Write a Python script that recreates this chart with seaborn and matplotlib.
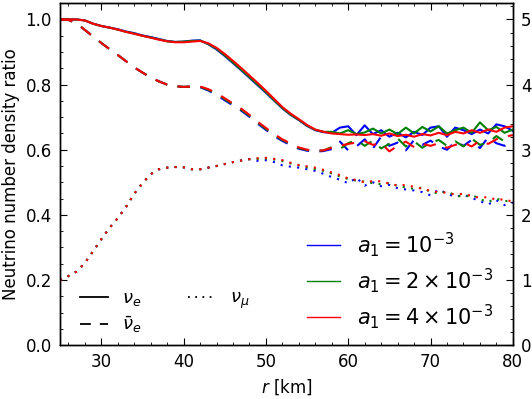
import matplotlib
matplotlib.use("Agg")
import matplotlib.pyplot as plt
from matplotlib.lines import Line2D
from matplotlib.ticker import MultipleLocator
import pandas as pd
import seaborn as sns

# radius grid [km]
r_km = list(range(25, 81))

# nu_e (solid)
nue_b = [1.000, 1.000, 1.000, 0.997, 0.987, 0.980, 0.975, 0.970, 0.963, 0.958, 0.951, 0.946, 0.940,
         0.934, 0.931, 0.932, 0.935, 0.936, 0.924, 0.908, 0.888, 0.866, 0.844, 0.821, 0.798, 0.775,
         0.751, 0.727, 0.707, 0.691, 0.673, 0.660, 0.654,
         0.652, 0.668, 0.672, 0.645, 0.675, 0.648, 0.660, 0.640, 0.652, 0.638, 0.655, 0.645, 0.668,
         0.672, 0.640, 0.668, 0.660, 0.648, 0.662, 0.650, 0.678, 0.672, 0.658]
nue_g = [1.000, 1.000, 1.000, 0.997, 0.987, 0.980, 0.975, 0.969, 0.962, 0.957, 0.950, 0.945, 0.939,
         0.933, 0.931, 0.932, 0.934, 0.935, 0.925, 0.910, 0.890, 0.868, 0.846, 0.823, 0.800, 0.777,
         0.752, 0.728, 0.708, 0.692, 0.674, 0.661, 0.655,
         0.655, 0.650, 0.660, 0.648, 0.653, 0.665, 0.650, 0.662, 0.648, 0.668, 0.650, 0.670, 0.656,
         0.672, 0.650, 0.660, 0.668, 0.652, 0.684, 0.660, 0.670, 0.652, 0.662]
nue_r = [1.000, 1.000, 1.000, 0.997, 0.987, 0.980, 0.975, 0.969, 0.962, 0.956, 0.950, 0.944, 0.938,
         0.933, 0.930, 0.930, 0.932, 0.934, 0.927, 0.913, 0.894, 0.873, 0.851, 0.828, 0.805, 0.781,
         0.756, 0.731, 0.711, 0.694, 0.676, 0.662, 0.655,
         0.650, 0.648, 0.646, 0.647, 0.645, 0.648, 0.643, 0.650, 0.642, 0.646, 0.640, 0.648, 0.644,
         0.652, 0.645, 0.655, 0.650, 0.660, 0.652, 0.662, 0.655, 0.668, 0.672]

# anti nu_e (dashed)
nuebar_b = [1.000, 0.999, 0.988, 0.968, 0.948, 0.928, 0.909, 0.891, 0.872, 0.853, 0.837, 0.822, 0.810,
            0.800, 0.795, 0.793, 0.794, 0.792, 0.782, 0.768, 0.752, 0.736, 0.720, 0.701, 0.680, 0.661,
            0.642, 0.627, 0.614, 0.603, 0.597, 0.594,
            0.596, 0.602, 0.625, 0.598, 0.610, 0.632, 0.604, 0.640, 0.612, 0.622, 0.598, 0.630, 0.615,
            0.628, 0.610, 0.600, 0.625, 0.612, 0.630, 0.605, 0.638, 0.620, 0.612, 0.630]
nuebar_g = [1.000, 0.999, 0.988, 0.968, 0.948, 0.928, 0.909, 0.891, 0.872, 0.853, 0.837, 0.822, 0.810,
            0.800, 0.795, 0.793, 0.794, 0.793, 0.784, 0.771, 0.755, 0.739, 0.723, 0.704, 0.683, 0.664,
            0.645, 0.630, 0.617, 0.605, 0.599, 0.596,
            0.598, 0.608, 0.602, 0.620, 0.630, 0.612, 0.628, 0.604, 0.618, 0.635, 0.610, 0.626, 0.606,
            0.622, 0.630, 0.612, 0.626, 0.610, 0.634, 0.615, 0.622, 0.642, 0.625, 0.628]
nuebar_r = [1.000, 0.999, 0.988, 0.968, 0.948, 0.928, 0.909, 0.891, 0.872, 0.853, 0.837, 0.822, 0.810,
            0.800, 0.795, 0.793, 0.794, 0.794, 0.786, 0.774, 0.758, 0.742, 0.726, 0.707, 0.686, 0.667,
            0.648, 0.632, 0.619, 0.607, 0.600, 0.597,
            0.598, 0.606, 0.612, 0.618, 0.622, 0.626, 0.615, 0.620, 0.595, 0.612, 0.625, 0.608, 0.618,
            0.612, 0.620, 0.606, 0.615, 0.622, 0.610, 0.628, 0.618, 0.632, 0.640, 0.645]

# nu_mu (dotted): common part up to 48 km, then one tail per run
numu_head = [0.199, 0.212, 0.226, 0.252, 0.288, 0.325, 0.360, 0.390, 0.424, 0.465, 0.497, 0.525,
             0.540, 0.545, 0.547, 0.546, 0.540, 0.540, 0.545, 0.550, 0.556, 0.562, 0.567, 0.571]
numu_b = numu_head + [0.566, 0.568, 0.562, 0.552, 0.548, 0.545, 0.540, 0.535, 0.526, 0.516,
                      0.508, 0.497, 0.514, 0.490, 0.500, 0.488, 0.492, 0.482, 0.478, 0.475,
                      0.470, 0.460, 0.478, 0.465, 0.455, 0.462, 0.452, 0.442, 0.432, 0.445,
                      0.430, 0.438]
numu_g = numu_head + [0.572, 0.573, 0.570, 0.565, 0.558, 0.552, 0.546, 0.541, 0.535, 0.527,
                      0.518, 0.510, 0.505, 0.502, 0.497, 0.494, 0.498, 0.489, 0.484, 0.480,
                      0.484, 0.470, 0.466, 0.472, 0.460, 0.455, 0.462, 0.448, 0.440, 0.450,
                      0.442, 0.445]
numu_r = numu_head + [0.574, 0.575, 0.572, 0.568, 0.560, 0.553, 0.549, 0.545, 0.538, 0.530,
                      0.522, 0.512, 0.507, 0.500, 0.504, 0.503, 0.496, 0.490, 0.492, 0.486,
                      0.480, 0.474, 0.470, 0.468, 0.462, 0.465, 0.458, 0.452, 0.455, 0.446,
                      0.448, 0.440]

a1_labels = [r'$a_1 = 10^{-3}$', r'$a_1 = 2\times10^{-3}$', r'$a_1 = 4\times10^{-3}$']
species_labels = [r'$\nu_e$', r'$\bar{\nu}_e$', r'$\nu_\mu$']

series = {
    (a1_labels[0], species_labels[0]): nue_b,
    (a1_labels[1], species_labels[0]): nue_g,
    (a1_labels[2], species_labels[0]): nue_r,
    (a1_labels[0], species_labels[1]): nuebar_b,
    (a1_labels[1], species_labels[1]): nuebar_g,
    (a1_labels[2], species_labels[1]): nuebar_r,
    (a1_labels[0], species_labels[2]): numu_b,
    (a1_labels[1], species_labels[2]): numu_g,
    (a1_labels[2], species_labels[2]): numu_r,
}

frames = []
for (a1, sp), vals in series.items():
    frames.append(pd.DataFrame({'r': r_km, 'ratio': vals, 'a1': a1, 'species': sp}))
df = pd.concat(frames, ignore_index=True)

colors = {a1_labels[0]: (0, 0, 1), a1_labels[1]: (0, 0.5, 0), a1_labels[2]: (1, 0, 0)}
dash_map = {species_labels[0]: '', species_labels[1]: (6, 5), species_labels[2]: (1, 3)}

plt.rcParams.update({
    'font.family': ['DejaVu Sans'],
    'font.size': 12,
    'mathtext.fontset': 'dejavusans',
    'axes.linewidth': 1.0,
    'xtick.direction': 'in',
    'ytick.direction': 'in',
    'xtick.major.size': 5,
    'ytick.major.size': 5,
    'xtick.minor.size': 2.5,
    'ytick.minor.size': 2.5,
    'xtick.major.pad': 6,
    'ytick.major.pad': 6,
})

fig = plt.figure(figsize=(5.32, 3.99), dpi=100)
ax = fig.add_axes([0.113, 0.135, 0.851, 0.857])

sns.lineplot(
    data=df, x='r', y='ratio',
    hue='a1', hue_order=a1_labels, palette=colors,
    style='species', style_order=species_labels, dashes=dash_map,
    estimator=None, sort=False, legend=False, lw=1.5, ax=ax,
)

ax.set_xlim(25, 80)
ax.set_ylim(0, 1.05)
ax.xaxis.set_major_locator(MultipleLocator(10))
ax.xaxis.set_minor_locator(MultipleLocator(2))
ax.yaxis.set_major_locator(MultipleLocator(0.2))
ax.yaxis.set_minor_locator(MultipleLocator(0.05))
ax.tick_params(which='both', top=True, right=False)
ax.set_xlabel(r'$r$ [km]')
ax.set_ylabel('Neutrino number density ratio')

ax2 = ax.twinx()
ax2.set_ylim(0, 5.25)
ax2.yaxis.set_major_locator(MultipleLocator(1))
ax2.yaxis.set_minor_locator(MultipleLocator(0.2))
ax2.tick_params(which='both', direction='in')

style_handles = [Line2D([], [], color='k', lw=1.3, dashes=dash_map[s] if dash_map[s] else (None, None))
                 for s in species_labels]
leg1 = ax.legend(style_handles, species_labels, loc='lower left', bbox_to_anchor=(0.029, 0.009),
                 borderaxespad=0, ncol=2, frameon=False, columnspacing=2.6, handlelength=1.5,
                 labelspacing=0.35, fontsize=13)
ax.add_artist(leg1)

color_handles = [Line2D([], [], color=colors[a], lw=1.0) for a in a1_labels]
ax.legend(color_handles, a1_labels, loc='lower right', bbox_to_anchor=(0.988, 0.0),
          frameon=False, fontsize=15, handlelength=1.6, borderaxespad=0.28, labelspacing=0.35)

fig.savefig('out.png', dpi=100)
